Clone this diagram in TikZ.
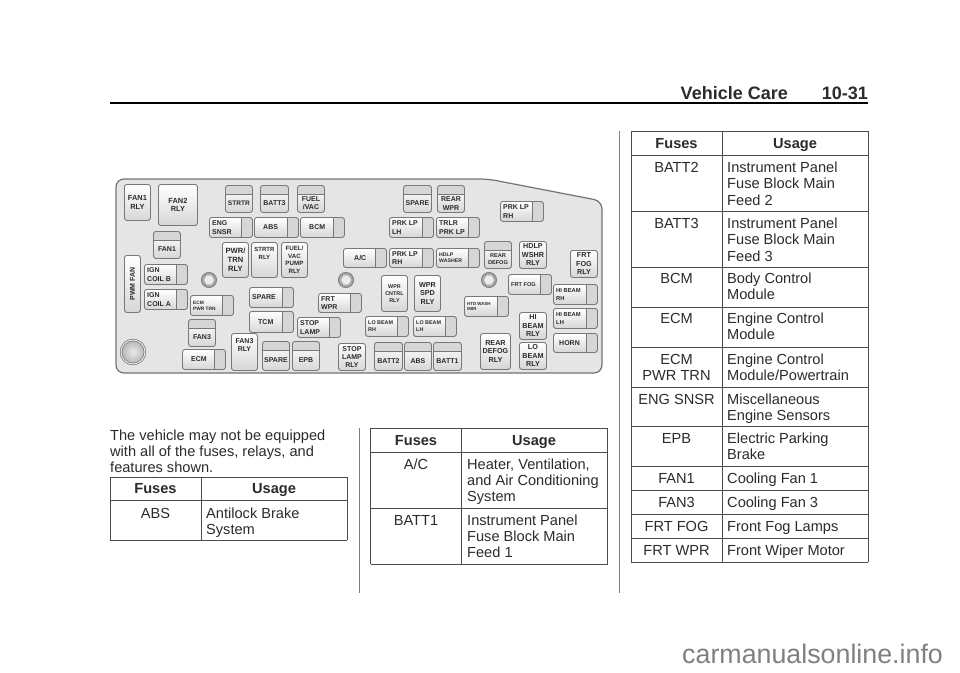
\documentclass[tikz,border=0pt]{standalone}
\usepackage{fontspec}
\setmainfont{Liberation Sans}
\usetikzlibrary{shapes.geometric}

\newcommand{\fusefont}[1]{\fontsize{#1}{\the\dimexpr#1pt+1.3pt\relax}\selectfont\bfseries}
% plain relay: size, name, left, top, width, height, text
\newcommand{\relaybox}[7][7]{
  \node[fuse,anchor=north west,minimum width=#5,minimum height=#6,align=center,
        font=\fusefont{#1}] (#2) at (#3,#4) {#7};
}
% fuse with a band along its top
\newcommand{\topfuse}[7][7]{
  \node[fuse,anchor=north west,minimum width=#5,minimum height=#6,path picture={
    \fill[bandgray] (path picture bounding box.north west) rectangle ([yshift=-9]path picture bounding box.north east);
    \draw[edgegray] ([yshift=-9]path picture bounding box.north west) -- ([yshift=-9]path picture bounding box.north east);
  }] (#2) at (#3,#4) {};
  \node[fusetext,align=center,font=\fusefont{#1}] (#2t) at ([yshift=-4.5]#2.center) {#7};
}
% fuse with a band along its right side
\newcommand{\sidefuse}[7][7]{
  \node[fuse,anchor=north west,minimum width=#5,minimum height=#6,path picture={
    \fill[bandgray] ([xshift=-11]path picture bounding box.north east) rectangle (path picture bounding box.south east);
    \draw[edgegray] ([xshift=-11]path picture bounding box.north east) -- ([xshift=-11]path picture bounding box.south east);
  }] (#2) at (#3,#4) {};
  \node[fusetext,anchor=west,font=\fusefont{#1}] (#2t) at ([xshift=3]#2.west) {#7};
}

\begin{document}
\begin{tikzpicture}[x=1pt,y=-1pt]
  \definecolor{bandgray}{gray}{.84}
  \definecolor{edgegray}{gray}{.47}
  \definecolor{inkgray}{gray}{.17}
  \definecolor{rulegray}{gray}{.3}
  \tikzset{
    fuse/.style={draw=edgegray,line width=.9pt,rounded corners=2.5pt,inner sep=0pt,
      top color=white,bottom color=black!16,text=inkgray},
    fusetext/.style={inner sep=0pt,align=left,text=inkgray},
    page/.style={font=\fontsize{14.6}{16.2}\selectfont,text=inkgray,inner sep=0pt},
    cellhead/.style={page,anchor=base,font=\fontsize{14.6}{16.2}\selectfont\bfseries},
    cellfuse/.style={page,anchor=north,align=center,execute at begin node={\vphantom{Ak}}},
    cellusage/.style={page,anchor=north west,align=left,execute at begin node={\vphantom{Ak}}},
    grid/.style={draw=rulegray,line width=.9pt},
    bolt/.style={circle,draw=black!50,fill=black!32,line width=1pt,minimum size=15pt,inner sep=0pt},
    boltcap/.style={regular polygon,regular polygon sides=6,draw=black!42,fill=black!8,minimum size=11pt,inner sep=0pt}
  }
  \useasboundingbox (0,0) rectangle (960,672);
  \fill[white] (0,0) rectangle (960,672);

  % page head
  \node[page,anchor=base east,font=\fontsize{18}{20}\selectfont\bfseries] (chapter) at (788,99) {Vehicle Care};
  \node[page,anchor=base east,font=\fontsize{18}{20}\selectfont\bfseries] (pageno) at (868,99) {10-31};
  \coordinate (headl) at (110,103);
  \coordinate (headr) at (868,103);
  \draw[black,line width=2.8pt] (headl) -- (headr);

  % fuse panel
  \draw[draw=black!55,fill=black!10,line width=1.2pt,rounded corners=8pt]
    (116,179) -- (488,179) -- (602,201) -- (602,373) -- (116,373) -- cycle;

  \relaybox[7.4]{fanonerly}{124}{184}{26}{36}{FAN1\\RLY}
  \relaybox[7.4]{fantworly}{158}{184}{39}{41}{FAN2\\RLY}
  \topfuse[6.6]{strtr}{225}{185}{27}{27}{STRTR}
  \topfuse{battthree}{260}{185}{28}{27}{BATT3}
  \topfuse{fuelvac}{297}{185}{27}{27}{FUEL\\/VAC}
  \sidefuse{engsnsr}{209}{217}{43}{20}{ENG\\SNSR}
  \sidefuse{abstop}{254}{217}{44}{20}{\hspace{6pt}ABS}
  \sidefuse{bcm}{300}{217}{44}{20}{\hspace{6pt}BCM}
  \topfuse{fanone}{153}{231}{27}{27}{FAN1}
  \relaybox[7.6]{pwrtrn}{222}{242}{26}{35}{PWR/\\TRN\\RLY}
  \relaybox[6]{strtrrly}{251}{242}{26}{35}{STRTR\\RLY\\[6pt]}
  \relaybox[6.2]{fuelpump}{281}{242}{26}{35}{FUEL/\\VAC\\PUMP\\RLY}
  \sidefuse{ac}{343}{248}{43}{19}{\hspace{8pt}A/C}
  \node[fuse,anchor=north west,minimum width=16,minimum height=57,font=\fusefont{7}] (pwmfan) at (124,255) {\rotatebox{90}{PWM FAN}};
  \sidefuse{igncoilb}{144}{264}{43}{20}{IGN\\COIL B}
  \sidefuse{igncoila}{144}{289}{43}{20}{IGN\\COIL A}
  \sidefuse[4.8]{ecmpwr}{190}{295}{43}{20}{ECM\\PWR TRN}
  \sidefuse{sparemid}{249}{287}{44}{20}{SPARE}
  \sidefuse{tcm}{249}{311}{44}{21}{\hspace{6pt}TCM}
  \sidefuse{frtwpr}{318}{293}{43}{19}{FRT\\WPR}
  \sidefuse{stoplamp}{297}{317}{43}{20}{STOP\\LAMP}
  \topfuse{fanthree}{188}{319}{27}{27}{FAN3}
  \sidefuse{ecm}{182}{349}{43}{20}{\hspace{6pt}ECM}
  \relaybox{fanthreerly}{231}{333}{26}{37}{FAN3\\RLY\\[5pt]}
  \topfuse{sparelow}{262}{341}{27}{29}{SPARE}
  \topfuse{epb}{292}{341}{27}{29}{EPB}
  \relaybox{stoplamprly}{338}{343}{27}{27}{STOP\\LAMP\\RLY}

  \topfuse{sparetop}{403}{185}{28}{27}{SPARE}
  \topfuse{rearwpr}{437}{185}{27}{27}{REAR\\WPR}
  \sidefuse{prklptop}{500}{201}{43}{20}{PRK LP\\RH}
  \sidefuse{prklplh}{389}{217}{44}{20}{PRK LP\\LH}
  \sidefuse{trlrprk}{436}{217}{43}{20}{TRLR\\PRK LP}
  \sidefuse{prklprh}{389}{248}{44}{19}{PRK LP\\RH}
  \sidefuse[5.2]{hdlpwasher}{436}{248}{43}{19}{HDLP\\WASHER}
  \topfuse[5.6]{reardefog}{484}{241}{27}{27}{REAR\\DEFOG}
  \relaybox[7.2]{hdlpwshr}{519}{241}{27}{27}{HDLP\\WSHR\\RLY}
  \relaybox[7.2]{frtfogrly}{570}{250}{27}{27}{FRT\\FOG\\RLY}
  \sidefuse[5.6]{frtfog}{508}{274}{43}{20}{FRT FOG}
  \sidefuse[5.8]{hibeamrh}{553}{284}{44}{20}{HI BEAM\\RH}
  \sidefuse[4.4]{htdwash}{464}{296}{44}{20}{HTD WASH\\/MIR}
  \relaybox[5.4]{wprcntrl}{381}{275}{26}{36}{WPR\\CNTRL\\RLY}
  \relaybox[7.2]{wprspd}{414}{275}{26}{36}{WPR\\SPD\\RLY}
  \sidefuse[5.8]{hibeamlh}{553}{308}{44}{20}{HI BEAM\\LH}
  \sidefuse{horn}{553}{333}{44}{19}{\hspace{3pt}HORN}
  \sidefuse[5.4]{lobeamrh}{365}{316}{43}{20}{LO BEAM\\RH}
  \sidefuse[5.4]{lobeamlh}{413}{316}{43}{20}{LO BEAM\\LH}
  \relaybox[7.2]{hibeamrly}{519}{312}{27}{27}{HI\\BEAM\\RLY}
  \relaybox[7.2]{lobeamrly}{519}{342}{27}{27}{LO\\BEAM\\RLY}
  \relaybox[7.2]{reardefogrly}{480}{333}{30}{36}{REAR\\DEFOG\\RLY}
  \topfuse{batttwo}{374}{342}{28}{28}{BATT2}
  \topfuse{abslow}{404}{342}{27}{28}{ABS}
  \topfuse{battone}{433}{342}{28}{28}{BATT1}

  \foreach \name/\x in {boltone/209,bolttwo/346,boltthree/489} {
    \node[bolt] (\name) at (\x,280) {};
    \node[boltcap] (\name cap) at (\x,280) {};
  }
  \node[circle,draw=black!55,double=black!8,double distance=1pt,line width=.7pt,minimum size=24pt,inner sep=0pt,
        inner color=black!8,outer color=black!30] (grommet) at (133,352) {};

  % left column
  \node[page,anchor=north west,align=left] (intro) at (110,429.5) {The vehicle may not be equipped\\with all of the fuses, relays, and\\features shown.};
  \foreach \y in {477,500,540} \draw[grid] (110,\y) -- (347,\y);
  \foreach \x in {110,201,347} \draw[grid] (\x,477) -- (\x,540);
  \node[cellhead] (fusesa) at (155.5,493) {Fuses};
  \node[cellhead] (usagea) at (274,493) {Usage};
  \node[cellfuse] (abs) at (155.5,507.5) {ABS};
  \node[cellusage] (absuse) at (206,507.5) {Antilock Brake\\System};

  \draw[draw=black!50,line width=1pt] (359,428) -- (359,593);

  % middle column
  \foreach \y in {428,452,508,564} \draw[grid] (370.5,\y) -- (607.5,\y);
  \foreach \x in {370.5,461,607.5} \draw[grid] (\x,428) -- (\x,564);
  \node[cellhead] (fusesb) at (416,445.5) {Fuses};
  \node[cellhead] (usageb) at (534,445.5) {Usage};
  \node[cellfuse] (acrow) at (416,458.5) {A/C};
  \node[cellusage] (acuse) at (467,458.5) {Heater, Ventilation,\\and Air Conditioning\\System};
  \node[cellfuse] (battonerow) at (416,514.5) {BATT1};
  \node[cellusage] (battoneuse) at (467,514.5) {Instrument Panel\\Fuse Block Main\\Feed 1};

  \draw[draw=black!50,line width=1pt] (619,131) -- (619,593);

  % right column
  \foreach \y in {131,155,211,267,307,347,387,426,466,490,514,538,562} \draw[grid] (631,\y) -- (868,\y);
  \foreach \x in {631,722,868} \draw[grid] (\x,131) -- (\x,562);
  \node[cellhead] (fusesc) at (676.5,148.5) {Fuses};
  \node[cellhead] (usagec) at (795,148.5) {Usage};
  \foreach \name/\y/\fusename/\usage in {
    batttwo/162/BATT2/{Instrument Panel\\Fuse Block Main\\Feed 2},
    battthree/218/BATT3/{Instrument Panel\\Fuse Block Main\\Feed 3},
    bcm/273/BCM/{Body Control\\Module},
    ecm/313/ECM/{Engine Control\\Module},
    ecmpwr/354/{ECM\\PWR TRN}/{Engine Control\\Module/Powertrain},
    engsnsr/394/ENG SNSR/{Miscellaneous\\Engine Sensors},
    epb/433/EPB/{Electric Parking\\Brake},
    fanone/473/FAN1/Cooling Fan 1,
    fanthree/497/FAN3/Cooling Fan 3,
    frtfog/521/FRT FOG/Front Fog Lamps,
    frtwpr/545/FRT WPR/Front Wiper Motor} {
    \node[cellfuse] (\name row) at (676.5,\y) {\fusename};
    \node[cellusage] (\name use) at (727,\y) {\usage};
  }

  \node[inner sep=0pt,anchor=base west,text=black!50,font=\fontsize{26.8}{30}\selectfont] (site) at (682,663) {carmanualsonline.info};
\end{tikzpicture}
\end{document}
